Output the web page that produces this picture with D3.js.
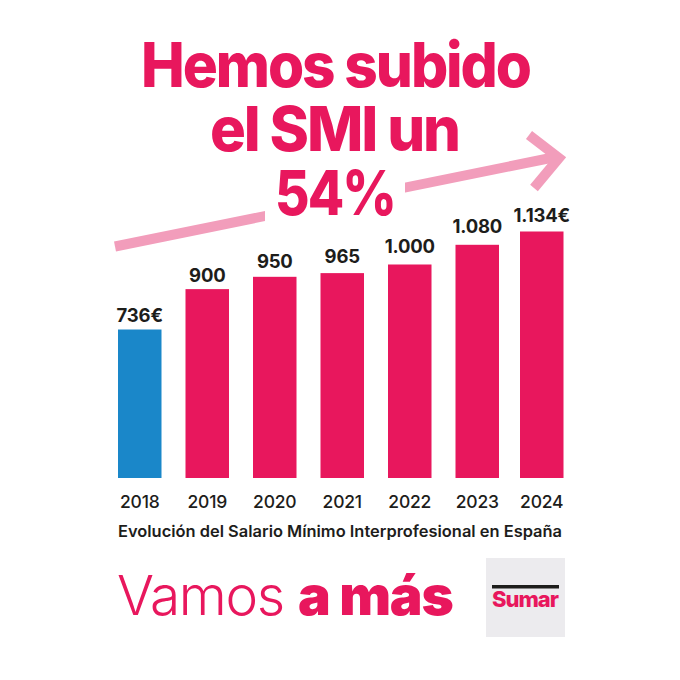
<!DOCTYPE html>
<html>
<head>
<meta charset="utf-8">
<script src="https://cdn.jsdelivr.net/npm/d3@7"></script>
<style>
  html, body { margin: 0; padding: 0; background: #fff; }
  svg { display: block; }
  text { font-family: Inter, "Liberation Sans", sans-serif; }
</style>
</head>
<body>
<svg width="680" height="680"></svg>
<script>
// Data
const years = ['2018', '2019', '2020', '2021', '2022', '2023', '2024'];
const values = [736, 900, 950, 965, 1000, 1080, 1134];
const valueLabels = ['736€', '900', '950', '965', '1.000', '1.080', '1.134€'];
const titleLines = ['Hemos subido', 'el SMI un', '54%'];

const pink = '#e8175d', blue = '#1a87c9', soft = '#f29dbb', dark = '#1d1d1b';

const svg = d3.select('svg');

// The last bar sits a little closer to its neighbour in the original
const x = d3.scaleOrdinal().domain(years).range([118, 185.5, 253, 320.5, 388, 455.5, 520]);
const barWidth = 43.5;
const y = d3.scaleLinear().domain([133, 1134]).range([478, 231.5]);

// Rising arrow behind the title
const arrow = svg.append('g').attr('fill', 'none').attr('stroke', soft).attr('stroke-width', 10);
arrow.append('path').attr('d', d3.line()([[115, 246.5], [558, 156.5]]));
arrow.append('path').attr('d', d3.line()([[529, 135], [559, 158], [534, 188]]));
svg.append('rect').attr('x', 265).attr('y', 175).attr('width', 140).attr('height', 50).attr('fill', '#fff');

// Title, tracked in and then fitted to the widths of the original
const titleWidths = [389, 249, 120];
svg.append('g').attr('fill', pink).attr('text-anchor', 'middle')
  .attr('font-size', 62).attr('font-weight', 800).attr('letter-spacing', -2.2)
  .selectAll('text').data(titleLines).enter().append('text')
  .attr('x', (d, i) => [335.5, 334.5, 335][i])
  .attr('y', (d, i) => 87 + i * 64)
  .attr('textLength', (d, i) => titleWidths[i])
  .attr('lengthAdjust', 'spacingAndGlyphs')
  .text(d => d);

// Bars
svg.append('g').selectAll('rect').data(values).enter().append('rect')
  .attr('x', (d, i) => x(years[i]))
  .attr('y', d => y(d))
  .attr('width', barWidth)
  .attr('height', d => y.range()[0] - y(d))
  .attr('fill', (d, i) => i === 0 ? blue : pink);

// Value labels, the gap over the bar is not even in the original
const labelGaps = [7.5, 7.4, 9, 10.4, 11.8, 12.1, 9.5];
svg.append('g').attr('fill', dark).attr('text-anchor', 'middle')
  .attr('font-size', 18.5).attr('font-weight', 700)
  .selectAll('text').data(values).enter().append('text')
  .attr('x', (d, i) => x(years[i]) + barWidth / 2)
  .attr('y', (d, i) => y(d) - labelGaps[i])
  .attr('letter-spacing', -0.2)
  .text((d, i) => valueLabels[i]);

// Year labels
svg.append('g').attr('fill', dark).attr('text-anchor', 'middle')
  .attr('font-size', 17.5).attr('font-weight', 500).attr('letter-spacing', -0.2)
  .selectAll('text').data(years).enter().append('text')
  .attr('x', d => x(d) + barWidth / 2)
  .attr('y', 508)
  .text(d => d);

// Caption
svg.append('text').attr('x', 118).attr('y', 537).attr('fill', dark)
  .attr('font-size', 16).attr('font-weight', 600)
  .attr('textLength', 444).attr('lengthAdjust', 'spacingAndGlyphs')
  .text('Evolución del Salario Mínimo Interprofesional en España');

// Slogan
const slogan = svg.append('text').attr('x', 117).attr('y', 615).attr('fill', pink)
  .attr('font-size', 55).attr('letter-spacing', -1.3);
slogan.append('tspan').attr('font-weight', 300).text('Vamos ');
slogan.append('tspan').attr('font-weight', 900).text('a más');

// Logo
svg.append('rect').attr('x', 486).attr('y', 558).attr('width', 79).attr('height', 79).attr('fill', '#ecebee');
svg.append('rect').attr('x', 492).attr('y', 585).attr('width', 67).attr('height', 3.5).attr('fill', dark);
svg.append('text').attr('x', 525.5).attr('y', 607).attr('fill', pink).attr('text-anchor', 'middle')
  .attr('font-size', 22).attr('font-weight', 800)
  .attr('textLength', 67).attr('lengthAdjust', 'spacing').text('Sumar');
</script>
</body>
</html>
